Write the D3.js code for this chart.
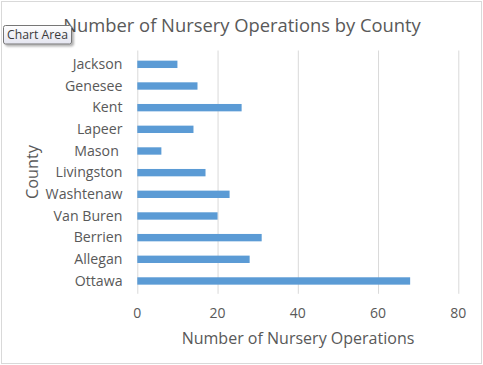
<!DOCTYPE html>
<html><head><meta charset="utf-8">
<script src="https://cdn.jsdelivr.net/npm/d3@7/dist/d3.min.js"></script>
<style>
html,body{margin:0;padding:0;background:#fff;}
svg{display:block;font-family:"Open Sans","Noto Sans",sans-serif;}
text{white-space:pre;}
</style></head>
<body>
<svg id="chart" width="483" height="365"></svg>
<script>
const title = "Number of Nursery Operations by County";
const xAxisTitle = "Number of Nursery Operations";
const yAxisTitle = "County";
const counties = ["Jackson","Genesee","Kent","Lapeer","Mason ","Livingston","Washtenaw","Van Buren","Berrien","Allegan","Ottawa"];
const operations = [10,15,26,14,6,17,23,20,31,28,68];
const xTicks = [0,20,40,60,80];

const svg = d3.select("#chart");
const W = 483, H = 365;
const textColor = "#595959";

// chart border
svg.append("rect").attr("x",1.5).attr("y",1.5).attr("width",W-3).attr("height",H-3)
  .attr("fill","#fff").attr("stroke","#d9d9d9").attr("stroke-width",1);

const plot = {left:137.3, right:458.3, top:53.5, bottom:291.8};
const x = d3.scaleLinear().domain([0,80]).range([plot.left, plot.right]);
const y = d3.scaleBand().domain(counties).range([plot.top, plot.bottom]).padding(0);

function fit(sel, target){
  const w = sel.node().getComputedTextLength();
  const fs = parseFloat(sel.attr("font-size"));
  sel.attr("font-size", fs*target/w);
}

// gridlines
svg.append("g").selectAll("line").data(xTicks).join("line")
  .attr("x1",d=>x(d)+0.5).attr("x2",d=>x(d)+0.5)
  .attr("y1",plot.top-3).attr("y2",plot.bottom+2)
  .attr("stroke","#d9d9d9").attr("stroke-width",1);

// bars
const barH = y.step()*0.34;
svg.append("g").selectAll("rect").data(counties).join("rect")
  .attr("x",x(0)).attr("width",(d,i)=>x(operations[i])-x(0))
  .attr("y",d=>y(d)+y.bandwidth()/2-barH/2).attr("height",barH)
  .attr("fill","#5b9bd5");

// x tick labels
svg.append("g").selectAll("text").data(xTicks).join("text")
  .attr("x",d=>x(d)).attr("y",317.5).attr("text-anchor","middle")
  .attr("font-size",14).attr("fill",textColor).text(d=>d);

// category labels
const cl = svg.append("g").selectAll("text").data(counties).join("text")
  .attr("x",122.5).attr("y",d=>y(d)+y.bandwidth()/2+4.8).attr("text-anchor","end")
  .attr("font-size",13).attr("fill",textColor).text(d=>d);
const wNode = cl.filter(d=>d==="Washtenaw");
const wfs = 13*77/wNode.node().getComputedTextLength();
cl.attr("font-size",wfs);

// titles
const t = svg.append("text").attr("x",242).attr("y",32).attr("text-anchor","middle")
  .attr("font-size",18).attr("fill",textColor).text(title);
fit(t,358);
const xt = svg.append("text").attr("x",298).attr("y",344).attr("text-anchor","middle")
  .attr("font-size",15).attr("fill",textColor).text(xAxisTitle);
fit(xt,233);
const yt = svg.append("text").attr("transform","translate(38,172) rotate(-90)").attr("text-anchor","middle")
  .attr("font-size",15).attr("fill",textColor).text(yAxisTitle);
fit(yt,54);

// "Chart Area" tooltip
const defs = svg.append("defs");
const f = defs.append("filter").attr("id","sh").attr("x","-20%").attr("y","-30%").attr("width","150%").attr("height","180%");
f.append("feDropShadow").attr("dx",2).attr("dy",2).attr("stdDeviation",1.2).attr("flood-color","#000").attr("flood-opacity",0.3);
const g = defs.append("linearGradient").attr("id","tg").attr("x1",0).attr("y1",0).attr("x2",0).attr("y2",1);
g.append("stop").attr("offset","0%").attr("stop-color","#ffffff");
g.append("stop").attr("offset","100%").attr("stop-color","#e4e5f0");
svg.append("rect").attr("x",3.5).attr("y",25.5).attr("width",68).attr("height",18.5).attr("rx",2)
  .attr("fill","url(#tg)").attr("stroke","#767676").attr("filter","url(#sh)");
const tt = svg.append("text").attr("x",37.5).attr("y",39).attr("text-anchor","middle")
  .attr("font-size",11).attr("fill","#3b3b3b").text("Chart Area");
fit(tt,61);
</script>
</body></html>
